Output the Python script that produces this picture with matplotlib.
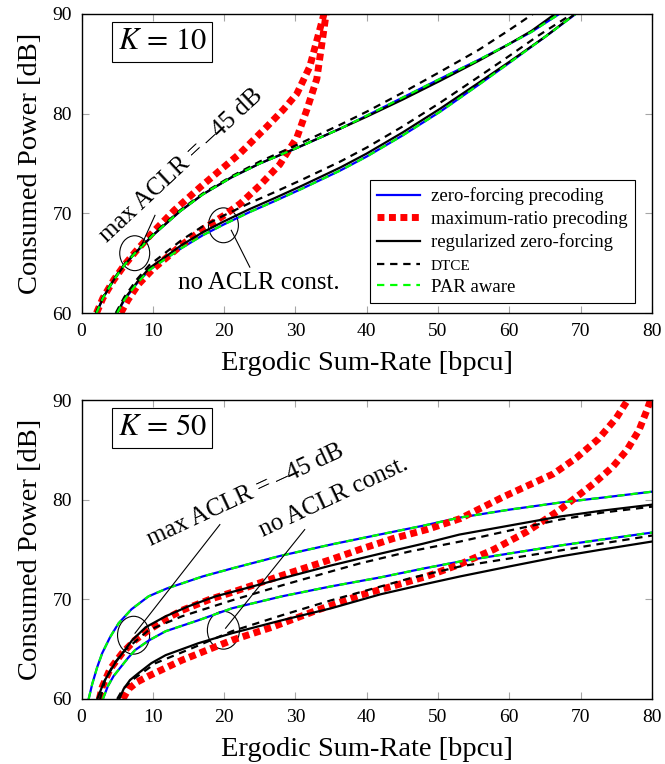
import matplotlib
matplotlib.use("Agg")
import matplotlib.pyplot as plt
from matplotlib.patches import Ellipse
import numpy as np

plt.rcParams['font.family'] = ['Liberation Serif', 'DejaVu Serif']
plt.rcParams['mathtext.fontset'] = 'stix'

# ---------------- K = 10 (top) ----------------
# max ACLR = -45 dB group
k10_zf_hi_x = [2.1, 3.0, 4.5, 6.0, 7.5, 10, 13.8, 17, 21, 25, 30, 36.3, 40, 45, 50.3, 55.7, 60, 63.1, 67]
k10_zf_hi_y = [60, 61.5, 63.3, 64.8, 66.0, 67.8, 70.2, 71.9, 73.6, 75.0, 76.5, 78.5, 79.8, 81.6, 83.5, 85.4, 87.0, 88.2, 90]
k10_rzf_hi_x = [2.1, 3.0, 4.5, 6.0, 7.5, 10, 13.8, 17, 21, 25, 30, 36.3, 40, 45, 50.3, 55.7, 60, 63.1, 66.4]
k10_rzf_hi_y = [60, 61.5, 63.3, 64.8, 66.0, 67.8, 70.2, 71.9, 73.6, 75.0, 76.5, 78.5, 79.7, 81.4, 83.3, 85.3, 87.0, 88.3, 90]
k10_dtce_hi_x = [2.0, 3.0, 4.5, 6.0, 7.5, 10, 13.8, 17, 21, 25, 30, 36.3, 40, 45, 50.3, 55.7, 60, 63.3]
k10_dtce_hi_y = [60, 61.6, 63.4, 64.9, 66.1, 67.9, 70.3, 72.0, 73.7, 75.2, 76.8, 78.9, 80.2, 82.1, 84.2, 86.4, 88.4, 90]
k10_mr_hi_x = [2.1, 3.0, 4.5, 6.0, 7.5, 10, 13, 16.6, 19.4, 22.2, 26, 28.3, 30.2, 32.0, 33.4, 34.0]
k10_mr_hi_y = [60, 61.5, 63.3, 64.8, 66.1, 68.1, 70.3, 72.6, 74.3, 76.0, 78.7, 80.4, 82.0, 84.7, 88.4, 90]

# no ACLR constraint group
k10_zf_lo_x = [5.0, 6.0, 7.8, 9.5, 11.5, 14, 17, 20, 23.5, 27, 31, 36.3, 40, 45, 50.3, 55.7, 60, 65, 69.3]
k10_zf_lo_y = [60, 61.3, 63.0, 64.3, 65.3, 66.5, 67.8, 68.9, 70.1, 71.2, 72.5, 74.3, 75.7, 77.8, 80.2, 82.9, 85.1, 87.7, 90]
k10_rzf_lo_x = [5.0, 6.0, 7.8, 9.5, 11.5, 14, 17, 20, 23.5, 27, 31, 36.3, 40, 45, 50.3, 55.7, 60, 65, 69.2]
k10_rzf_lo_y = [60, 61.4, 63.1, 64.5, 65.5, 66.8, 68.1, 69.2, 70.4, 71.5, 72.8, 74.6, 76.0, 78.1, 80.5, 83.1, 85.2, 87.7, 90]
k10_dtce_lo_x = [4.8, 6.0, 7.8, 9.5, 11.5, 14, 17, 20, 23.5, 27, 31, 36.3, 40, 45, 50.3, 55.7, 60, 64, 68.8]
k10_dtce_lo_y = [60, 61.6, 63.4, 64.8, 65.9, 67.3, 68.7, 69.8, 71.0, 72.1, 73.4, 75.2, 76.6, 78.7, 81.1, 83.7, 85.8, 87.8, 90]
k10_mr_lo_x = [5.5, 6.5, 8.0, 10, 12, 14, 17, 20, 22.3, 25, 27.8, 29.2, 30.2, 31.6, 33.0, 33.9, 34.3]
k10_mr_lo_y = [60, 61.3, 62.9, 64.4, 65.6, 66.8, 68.4, 69.8, 71.0, 72.8, 74.9, 76.5, 77.6, 80.4, 83.5, 88.0, 90]

# ---------------- K = 50 (bottom) ----------------
k50_zf_hi_x = [1.0, 1.5, 2.2, 2.9, 4.0, 5.2, 7.0, 9.4, 12, 14.1, 17, 21.1, 28.1, 35, 41.8, 48, 53, 60, 67, 73, 80]
k50_zf_hi_y = [60, 61.5, 63.2, 64.6, 66.2, 67.6, 69.0, 70.3, 71.1, 71.6, 72.3, 73.1, 74.4, 75.5, 76.5, 77.4, 78.2, 79.0, 79.7, 80.2, 80.8]
k50_rzf_hi_x = [2.2, 3.2, 4.7, 7.1, 9.0, 11.8, 15, 18.8, 23, 28.1, 35, 42, 48, 53, 60, 67, 73, 80]
k50_rzf_hi_y = [60, 61.8, 63.6, 65.9, 67.2, 68.3, 69.3, 70.3, 71.1, 72.1, 73.4, 74.6, 75.6, 76.5, 77.4, 78.3, 78.9, 79.5]
k50_dtce_hi_x = [2.6, 3.3, 4.5, 6.1, 9.4, 14.1, 21.1, 28.1, 35, 39, 46, 53.1, 60, 67.1, 73, 80]
k50_dtce_hi_y = [60, 61.9, 63.5, 64.9, 66.9, 68.3, 69.9, 71.4, 72.8, 73.6, 74.8, 75.8, 76.9, 78.0, 78.7, 79.3]
k50_mr_hi_x = [2.5, 2.9, 4.0, 5.7, 7.5, 9.4, 12, 14.1, 18, 21.1, 28.1, 35, 39, 43.7, 48.4, 53.1, 59.2, 66.2, 69.4, 72.5, 75.0, 76.6]
k50_mr_hi_y = [60, 61.2, 63.0, 64.6, 65.9, 66.9, 68.1, 68.9, 70.0, 70.7, 72.4, 74.0, 75.0, 76.1, 77.0, 78.1, 80.3, 82.6, 84.2, 86.1, 88.2, 90]

k50_zf_lo_x = [3.0, 3.7, 4.5, 5.5, 6.5, 7.5, 9.5, 11.8, 16.4, 21.1, 28.1, 35, 41.9, 48, 53.1, 60, 67.1, 73, 80]
k50_zf_lo_y = [60, 61.3, 62.3, 63.2, 64.1, 64.9, 65.9, 66.8, 67.9, 69.1, 70.3, 71.3, 72.2, 73.1, 73.8, 74.6, 75.4, 76.0, 76.7]
k50_rzf_lo_x = [5.3, 5.9, 6.8, 8.0, 9.8, 11.8, 16.4, 21.1, 28.1, 35, 41.9, 48, 53.1, 60, 67.1, 73, 80]
k50_rzf_lo_y = [60, 61.0, 61.9, 62.6, 63.6, 64.4, 65.6, 66.6, 67.9, 69.1, 70.5, 71.5, 72.3, 73.3, 74.3, 75.0, 75.8]
k50_dtce_lo_x = [5.0, 5.8, 7.1, 10.4, 15.5, 21.1, 28.1, 35, 39, 46, 53.1, 60, 67.1, 73, 80]
k50_dtce_lo_y = [60, 61.0, 61.9, 63.6, 65.1, 66.8, 68.4, 69.9, 70.7, 72.1, 73.3, 74.1, 74.9, 75.6, 76.4]
k50_mr_lo_x = [5.8, 6.6, 7.8, 9.4, 14.1, 21.1, 26.7, 33, 39, 44, 48.4, 53, 57.8, 62.5, 67.1, 71.8, 74.5, 76.5, 78.2, 79.3, 79.8]
k50_mr_lo_y = [60, 61.0, 61.7, 62.3, 63.9, 65.9, 67.2, 68.9, 70.4, 71.4, 72.3, 73.5, 75.0, 76.8, 79.0, 81.6, 83.3, 85.0, 87.0, 89.0, 90]

xticks = [0, 10, 20, 30, 40, 50, 60, 70, 80]
yticks = [60, 70, 80, 90]

zf_kw = dict(color=(0, 0, 1), lw=1.6)
mr_kw = dict(color=(1, 0, 0), lw=5, linestyle=(0, (1.0, 0.65)), dash_capstyle='butt')
rzf_kw = dict(color='black', lw=1.6)
dtce_kw = dict(color='black', lw=1.6, linestyle=(0, (3.3, 2.6)))
par_kw = dict(color=(0, 1, 0), lw=1.6, linestyle=(0, (3.3, 2.6)))

fig = plt.figure(figsize=(6.65, 7.64), dpi=100)
ax1 = fig.add_axes([0.1226, 0.5903, 0.8578, 0.3914])
ax2 = fig.add_axes([0.1226, 0.0851, 0.8578, 0.3913])


def draw(ax, zf_hi, mr_hi, rzf_hi, dtce_hi, zf_lo, mr_lo, rzf_lo, dtce_lo):
    ax.plot(*zf_hi, label='zero-forcing precoding', **zf_kw)
    ax.plot(*zf_lo, **zf_kw)
    ax.plot(*mr_hi, label='maximum-ratio precoding', **mr_kw)
    ax.plot(*mr_lo, **mr_kw)
    ax.plot(*rzf_hi, label='regularized zero-forcing', **rzf_kw)
    ax.plot(*rzf_lo, **rzf_kw)
    ax.plot(*dtce_hi, label='DTCE', **dtce_kw)
    ax.plot(*dtce_lo, **dtce_kw)
    ax.plot(*zf_hi, label='PAR aware', **par_kw)
    ax.plot(*zf_lo, **par_kw)
    ax.set_xlim(0, 80)
    ax.set_ylim(60, 90)
    ax.set_xticks(xticks)
    ax.set_yticks(yticks)
    ax.tick_params(direction='in', top=True, right=True, length=5, width=0.8,
                   color='0.65', labelsize=14, pad=7)
    for s in ax.spines.values():
        s.set_linewidth(1.0)
    ax.set_xlabel('Ergodic Sum-Rate [bpcu]', fontsize=20.5, labelpad=8)
    ax.set_ylabel('Consumed Power [dB]', fontsize=20.5, labelpad=7)


draw(ax1, (k10_zf_hi_x, k10_zf_hi_y), (k10_mr_hi_x, k10_mr_hi_y),
     (k10_rzf_hi_x, k10_rzf_hi_y), (k10_dtce_hi_x, k10_dtce_hi_y),
     (k10_zf_lo_x, k10_zf_lo_y), (k10_mr_lo_x, k10_mr_lo_y),
     (k10_rzf_lo_x, k10_rzf_lo_y), (k10_dtce_lo_x, k10_dtce_lo_y))
draw(ax2, (k50_zf_hi_x, k50_zf_hi_y), (k50_mr_hi_x, k50_mr_hi_y),
     (k50_rzf_hi_x, k50_rzf_hi_y), (k50_dtce_hi_x, k50_dtce_hi_y),
     (k50_zf_lo_x, k50_zf_lo_y), (k50_mr_lo_x, k50_mr_lo_y),
     (k50_rzf_lo_x, k50_rzf_lo_y), (k50_dtce_lo_x, k50_dtce_lo_y))

leg = ax1.legend(loc='lower right', bbox_to_anchor=(0.97, 0.032), fontsize=13.5,
                 frameon=True, fancybox=False, edgecolor='black', framealpha=1,
                 handlelength=2.3, borderpad=0.4, labelspacing=0.3, handletextpad=0.55,
                 borderaxespad=0)
leg.get_frame().set_linewidth(0.8)
leg.get_texts()[3].set_fontsize(11)

# labels K
box = dict(boxstyle='square,pad=0.17', fc='white', ec='black', lw=0.8)
ax1.text(11.3, 87.2, r'$K\,=\,10$', fontsize=22, ha='center', va='center', bbox=box)
ax2.text(11.3, 87.2, r'$K\,=\,50$', fontsize=22, ha='center', va='center', bbox=box)

# annotations top
for (cx, cy) in [(7.46, 66.0), (19.9, 68.8)]:
    ax1.add_patch(Ellipse((cx, cy), 4.2, 3.5, fill=False, ec='black', lw=0.8))
ax1.plot([8.4, 10.3], [66.8, 69.8], color='black', lw=0.8)
ax1.plot([21.0, 23.6], [68.3, 64.6], color='black', lw=0.8)
ax1.text(14.0, 74.8, 'max ACLR = \u201345 dB', fontsize=18, rotation=43,
         ha='center', va='center', rotation_mode='anchor')
ax1.text(24.8, 63.0, 'no ACLR const.', fontsize=18, ha='center', va='center')

# annotations bottom
for (cx, cy) in [(7.3, 66.4), (19.9, 66.9)]:
    ax2.add_patch(Ellipse((cx, cy), 4.5, 3.8, fill=False, ec='black', lw=0.8))
ax2.plot([7.5, 19.4], [66.6, 77.5], color='black', lw=0.8)
ax2.plot([20.2, 31.3], [67.1, 77.0], color='black', lw=0.8)
ax2.text(23.0, 80.4, 'max ACLR = \u201345 dB', fontsize=18, rotation=25,
         ha='center', va='center', rotation_mode='anchor')
ax2.text(35.3, 80.2, 'no ACLR const.', fontsize=18, rotation=25,
         ha='center', va='center', rotation_mode='anchor')

fig.align_ylabels([ax1, ax2])
fig.savefig('out.png', dpi=100)
